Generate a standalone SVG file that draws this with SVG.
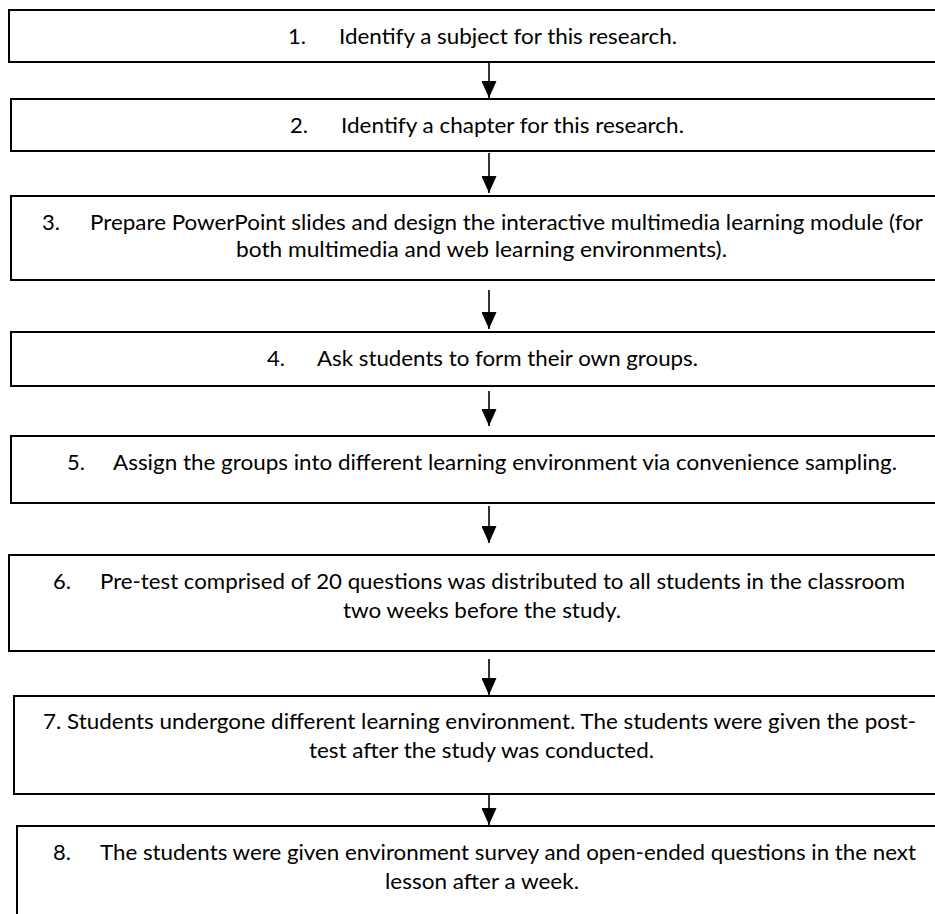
<svg xmlns="http://www.w3.org/2000/svg" width="935" height="914" viewBox="0 0 935 914">
<style>
.box{fill:#fff;stroke:#000;stroke-width:2}
.t{font-family:Lato,"Open Sans","Liberation Sans",sans-serif;font-size:22px;fill:#000}
.c{stroke:#000;stroke-width:1.6;fill:none;marker-end:url(#ah)}
</style>
<defs>
<marker id="ah" viewBox="0 0 17 15" refX="17" refY="7.5" markerWidth="17" markerHeight="15" markerUnits="userSpaceOnUse" orient="auto">
<path d="M0,0 L17,7.5 L0,15 z" fill="#000"/>
</marker>
</defs>
<rect width="935" height="914" fill="#fff"/>
<g id="connectors">
<path class="c" d="M489,62 L489,98"/>
<path class="c" d="M489,153 L489,193"/>
<path class="c" d="M489,290 L489,329"/>
<path class="c" d="M489,391 L489,426"/>
<path class="c" d="M489,506 L489,543"/>
<path class="c" d="M489,659 L489,695"/>
<path class="c" d="M489,795 L489,825"/>
</g>
<g id="n1">
<rect class="box" x="9" y="10" width="950" height="52"/>
<text class="t" x="288" y="44">1.</text>
<text class="t" x="339" y="44" textLength="338" lengthAdjust="spacingAndGlyphs">Identify a subject for this research.</text>
</g>
<g id="n2">
<rect class="box" x="11" y="99" width="950" height="52"/>
<text class="t" x="290" y="133">2.</text>
<text class="t" x="341" y="133" textLength="343" lengthAdjust="spacingAndGlyphs">Identify a chapter for this research.</text>
</g>
<g id="n3">
<rect class="box" x="11" y="196" width="950" height="84"/>
<text class="t" x="42" y="230">3.</text>
<text class="t" x="90" y="230" textLength="833" lengthAdjust="spacingAndGlyphs">Prepare PowerPoint slides and design the interactive multimedia learning module (for</text>
<text class="t" x="236" y="257" textLength="491" lengthAdjust="spacingAndGlyphs">both multimedia and web learning environments).</text>
</g>
<g id="n4">
<rect class="box" x="11" y="332" width="950" height="54"/>
<text class="t" x="267" y="366">4.</text>
<text class="t" x="317" y="366" textLength="381" lengthAdjust="spacingAndGlyphs">Ask students to form their own groups.</text>
</g>
<g id="n5">
<rect class="box" x="11" y="436" width="950" height="67"/>
<text class="t" x="67" y="470">5.</text>
<text class="t" x="113" y="470" textLength="784" lengthAdjust="spacingAndGlyphs">Assign the groups into different learning environment via convenience sampling.</text>
</g>
<g id="n6">
<rect class="box" x="9" y="555" width="950" height="96"/>
<text class="t" x="53" y="589">6.</text>
<text class="t" x="100" y="589" textLength="805" lengthAdjust="spacingAndGlyphs">Pre-test comprised of 20 questions was distributed to all students in the classroom</text>
<text class="t" x="343" y="618" textLength="278" lengthAdjust="spacingAndGlyphs">two weeks before the study.</text>
</g>
<g id="n7">
<rect class="box" x="14" y="696" width="950" height="98"/>
<text class="t" x="43" y="729" textLength="873" lengthAdjust="spacingAndGlyphs">7. Students undergone different learning environment. The students were given the post-</text>
<text class="t" x="309" y="758" textLength="345" lengthAdjust="spacingAndGlyphs">test after the study was conducted.</text>
</g>
<g id="n8">
<rect class="box" x="17" y="826" width="950" height="120"/>
<text class="t" x="53" y="860">8.</text>
<text class="t" x="100" y="860" textLength="816" lengthAdjust="spacingAndGlyphs">The students were given environment survey and open-ended questions in the next</text>
<text class="t" x="385" y="889" textLength="194" lengthAdjust="spacingAndGlyphs">lesson after a week.</text>
</g>
</svg>
